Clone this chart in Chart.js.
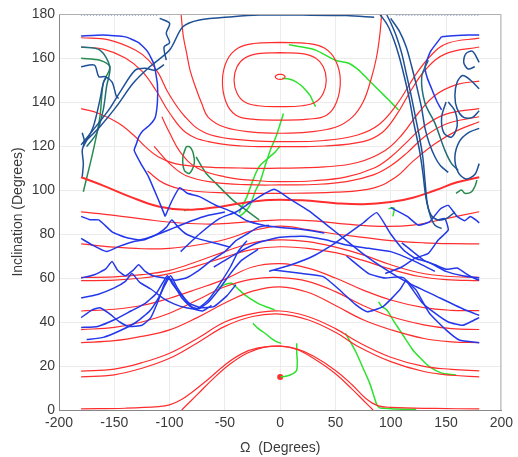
<!DOCTYPE html>
<html><head><meta charset="utf-8">
<script src="https://cdn.jsdelivr.net/npm/chart.js@4.4.1/dist/chart.umd.min.js"></script>
<style>html,body{margin:0;padding:0;background:#fff;}canvas{display:block;}</style>
</head><body>
<canvas id="c" width="518" height="457"></canvas>
<script>
// Axis ticks
const xTicks = [-200,-150,-100,-50,0,50,100,150,200];
const yTicks = [0,20,40,60,80,100,120,140,160,180];

// ---------- red level curves (Omega, inclination pairs) ----------
const redA = [-180,0.5,-140,0.8,-110,1.5,-100,2.3,-90,4.5,-80,8,-65,14,-50,20.5,-35,25.5,-20,28.2,0,29,15,27.8,30,24.5,50,18,65,11.5,78,5,88,2,100,1.2,140,0.7,180,0.5];
const redB = [-89,0,-75,7,-60,14.5,-45,21,-30,25.8,-15,28.5,0,29,15,27.5,30,23.5,50,16.5,65,9.5,76,4,84,0];
const redC = [-180,17.7,-150,18.6,-125,21.5,-100,25.8,-75,32.5,-50,40,-25,43.8,0,45,25,42.5,50,37,70,31,100,24,130,19.8,155,18.5,180,17.8];
const redD = [-180,15.1,-150,16,-125,19,-100,23.5,-75,30.5,-50,38,-25,42.5,0,43.6,25,41,50,35.3,70,29,100,22,130,17.5,155,15.8,180,15.1];
const redE = [-180,30.6,-150,31.5,-125,33.5,-100,36.4,-75,42,-50,48.6,-25,54,0,56,25,53.5,50,47.5,75,41,100,36.5,130,32.5,155,31,180,30.6];
const redF = [-180,36.5,-150,37.6,-125,40,-100,44,-75,50,-50,56,-25,59.5,0,60.2,25,58.5,50,53.8,75,47.5,100,42.5,130,38.7,155,37,180,36.6];
const redG = [-180,45,-150,45.8,-125,47.5,-100,50.8,-75,55,-50,59.5,-25,65,0,66.5,25,64.5,50,60,75,54.5,100,50,130,46.5,155,45.3,180,45.2];
const redH = [-180,60.3,-150,60.5,-125,61.5,-100,63.5,-75,67.5,-50,72,-25,76,0,77.3,25,76.5,50,74,75,70.5,100,66,125,62.5,150,60.8,180,60.3];
const redI = [-180,58.8,-150,59,-125,60,-100,62,-75,65.5,-50,69.5,-25,73,0,74.2,25,73.5,50,71.5,75,68,100,64,125,60.8,150,59.3,180,58.8];
const redJ = [-180,75.5,-150,74,-125,73.3,-100,73.5,-75,75,-50,77.5,-25,81.5,0,83.6,25,82,50,80,75,78.5,100,77,130,76,155,75.6,180,75.5];
const redK = [-180,90.1,-150,88.5,-120,86.5,-90,85,-60,84.5,-30,85.5,0,86.4,30,86,60,84.5,90,83.5,120,84,150,87,180,90.1];
const redL = [-180,105.8,-160,102,-136,97,-110,92.5,-85,91,-60,92,-35,94,-10,95.5,20,95.3,50,94,75,93.5,100,94.5,120,96.5,141,100,160,103.5,180,105.8];
const redM = [-120,108.6,-105,103,-85,100,-50,98.7,0,98.5,50,99,85,101,105,106,120,113,140,121,160,127,180,131];
const redN = [-114,119.8,-100,112,-85,106.5,-60,103.5,-30,102.4,0,102.3,30,102.5,60,103.8,85,107,100,111,115,117,130,124,150,130,180,133.3];
const redO = [-107,133.3,-100,126,-90,117,-75,110,-50,106,-20,104.2,0,103.8,30,104.2,60,106,85,110,100,115,115,122,130,129,150,134.5,180,137];
const redP = [-180,137,-164,134.8,-146,130.3,-131,124.2,-122,119.7,-110,115,-95,112,-70,110.5,-35,110,0,109.9,40,110.5,70,112.5,95,118,110,125,125,135,140,143,160,148,180,149.5];
const redQ = [-180,165,-160,164,-140,160,-125,154,-112,145,-100,135,-85,126,-65,122,-35,120,0,119.7,40,120,75,122,92,126,105,134,118,145,132,155,150,162,180,165];
const redR = [-180,169.2,-155,168.2,-131,163.6,-119,159,-110,153,-101,144,-86,133.3,-68,126,-40,123,0,122,40,122.5,70,125,90,130,107,140,122,152,137,161.5,152,166.8,180,169];
const redS = [-89.6,180,-87.6,170,-84.5,162,-81.5,154.5,-76,146,-71,139.4,-65,133,-50,128.5,-25,126.3,0,125.8,25,126.3,50,128.5,65,133,75,140,82,150,87,160,90,170,91.8,180];
const redLoop2 = [0,167.1,25,166.6,40,164.5,50,159,54.4,150,51,140,42,134,25,132.2,0,131.8,-25,132.2,-40,134,-49,140,-52.2,150,-48,159,-38,164.5,-24,166.6,0,167.1];
const redLoop1 = [0,162.4,20,162,32,160,39,156,41.7,150,39,144,32,140,20,138.3,0,137.9,-20,138.3,-32,140,-39,144,-41.7,150,-39,156,-32,160,-20,162,0,162.4];
const redLoop0 = [0,152.6,3,152.3,4.5,151.5,3,150.6,0,150.3,-3,150.6,-4.5,151.5,-3,152.3,0,152.6];
const redDot = [0,15];

// ---------- blue trajectories ----------
const blue01 = [-180,170,-160,170.4,-140,169.6,-128,167,-120,163,-114,157,-111,148,-111,140,-113,133,-118,129.5,-124,127,-128,124,-130,121,-132,118,-126,112,-119,106,-113,99,-108,93,-104,88];
const blue02 = [-104,88,-98,95,-91,101,-84,98.5,-73,97,-58,93,-43,90,-30,86,-15,84,0,83,20,82,40,80.5];
const blue03 = [-90,72,-73,80,-55,87,-40,90,-25,95,-5.6,100.3,10,95.5,26,90.5,45,83,60,77,75,71,95,64,115,58,140,52,165,46,180,43];
const blue04 = [-10,63,10,66,30,70,50,76,62,80.3,75,85,87.3,89.7,100,80,112,72.5,122,69,135,67,150,63,165,61,180,60];
const blue05 = [-180,60,-168,61.5,-158,64,-152,67.5,-147,63.5,-140,61,-133,63.5,-128,66,-122,63,-115,61,-105,60,-95,59,-85,60,-75,63,-62,68,-50,72,-40,77,-30,80,-20,83,-10,84];
const blue06 = [-180,51,-165,52.5,-150,55.5,-140,58.5,-134,62,-127,58,-117,55,-105,50.5,-95,48,-85,46.5,-75,46,-65,50,-55,57,-45,65,-38,72,-30,77];
const blue07 = [-180,42,-170,45.5,-163,46.5,-155,44,-145,40,-137,38,-125,38.5,-117,42,-110,50,-105,57,-101,60.5,-96,57,-89,51,-81,47,-74,46,-65,49,-55,55,-45,62,-35,68,-20,73];
const blue08 = [-180,37.5,-165,38,-150,41,-135,45,-122,48.5,-112,53,-106,58,-102,61,-97,57,-90,52.5,-82,48.5,-72,46.5,-60,47,-48,52,-40,57];
const blue09 = [-175,32,-160,33,-145,36,-130,40,-118,45,-110,51,-104,57,-99,61,-93,55.5,-86,50.5,-78,46,-70,45,-62,47.5];
const blue10 = [-180,78,-170,75,-157,72,-145,74.5,-133,76.5,-122,77.5,-110,80,-95,83,-80,86,-65,88.5,-50,90];
const blue11 = [-180,88,-172,86.5,-164,86.4,-152,81,-140,78.5,-128,77.3,-118,78.5,-110,80.3,-103,83,-98,86.4,-92,83,-85,80,-75,78,-60,76,-45,74];
const blue12 = [-5.7,63.6,20,62,39,60.6,55,54,68,48,78.6,44.7,93,47,108,54.5,114,59,118,57,123,54.5,135,44,150,36.4,162,31.8,180,30.6];
const blue13 = [60,70,80,62,95,60,105,60.5,112,60,118,56,128,49,140,44,152,40,165,38.5,172,40,180,42];
const blue14 = [110,76,120,72,130,68,140,66,150,64,160,64.5,168,62,175,60,180,59];
const blue15 = [100,92,115,88,125,84,135,85.5,145,91.5,152,93,160,88,167,86,172,88,178,86,180,85];
const blue16 = [-60,65,-40,71,-20,76,0,78.5,20,79,40,77.5,60,75,80,73.5,100,72,120,68,140,63];
const blue17 = [95,62,110,65,122,69,134,71.2,143,77.3,152,81.8,149,87,143,86.4];
const blue18 = [146,169.7,160,170.2,170,170.4,180,170.5];
const blue19 = [146,169.7,136,163,131,156,133,151,137,146,142,140,146,136.4];

// ---------- dark blue / teal trajectories ----------
const navy01 = [-178,121.2,-163,128.8,-148,138,-133,148.5,-118,156,-100,163.6,-88,174.2,-73,177.3,-43,178.8,-19,179.5,20,179.5,60,179.3,85,178.5];
const navy02 = [-180,120.5,-168,128,-155,136.4,-143,146,-131,154.5,-122,155.3,-113,154.5,-105,157];
const navy03 = [-109,178,-100,175.8,-103,171.2,-100,167,-105,165,-103,159];
const navy04 = [-180,156,-168,156.8,-164,151.5,-158,151.5,-152,149,-148,142.4,-146,141.7];
const navy05 = [-178,119.7,-169,128.8,-163,141,-160,148.5,-157,151.5];
const navy06 = [-179,106,-178,112,-179,118,-177,122,-179,126];
const navy07 = [90,180,97,175,103,168,108,160,113,150,117,141,121,130,126,118,129,108,132,96,136,89,142,86.5,150,87,158,90];
const navy08 = [96,180,100,176,105,170,110,162,114,153,118,144,122,134,126,124,129,115,131,104,133,94,136,88,140,84,146,82.5];
const navy09 = [100,178,108,172,114,165,119,156,124,146,128,137,131,128,135,121,140,115,145,111,152,108];
const navy10 = [180,146,172,150,165,152,160,149,158,143,160,137,166,133,174,133,180,136];
const navy11 = [180,128,170,126,162,122,158,115,161,108,168,105,176,107,180,112];
const navy12 = [150,140,146,133,148,126,155,124,160,129,158,136,152,140];
const navy13 = [180,158,174,163,168,162,166,158,170,155,176,156];
const topDots = [-180,179.5,-110,179.5];
const topDotsR = [105,179.5,180,179.5];
const teal01 = [134,159,128,151.5,131,139.4,140,130.3,149,118,155,112,161,109];
const teal02 = [-180,165,-163,163.6,-154,156,-157,147,-160,136.4,-166,125.8,-175,119.7];

// ---------- green trajectories ----------
const green01 = [2,150.8,8,150.5,14,149.3,19,147.5,23,145.5,27,143,29,141,32,137.9];
const green02 = [8,166,20,165,32,163.6,50,159,62,157.6,71,154.5,80,150,90,145,98,141,107,136.4];
const green03 = [3,134.8,0,130,-4,124,-9,118,-13,112,-18,104,-22,100,-25,96,-28,92.4,-33,89.5,-37,88];
const green04 = [0,120,-5,117,-12,114,-19,110.6,-25,104,-30,97,-35,92,-37,89.4];
const green05 = [-56,55.3,-50,57,-44,57.6,-38,55,-32,52.3,-26,50.3,-20,48.5,-12,46.8,-5,45.5];
const green06 = [-24.6,39.4,-20,37.1,-14,35,-8,32.6,-3,31,1,30.3];
const green07 = [0.3,15.1,5,15.3,9,15.9,13,17,15,18.2,15.5,22,15,26,15,30.3];
const green08 = [59,34.8,64,30.5,69,25.8,75,19,81,12.1,85,6,87.5,2.3,90,1,93,0.8,105,0.4,123,0.3];
const green09 = [89,49.2,92,47,96.5,45.5,102,41,108,36.4,114,31.8,120,27.3,127,23.5,135,19.7,145,17,159,15.9];
const green10 = [-87,90.5,-83,91.3];
const green11 = [98,91.5,103,91.8,102,88];
const dkgreen01 = [-85,119.7,-88,115,-86.7,109,-82,107.6,-77.7,112,-79,117.4,-82,119.7,-85,119.7];
const dkgreen02 = [-76,115,-67,107.6,-58,103,-43,95.5,-30,90.5,-19,86.4];
const dkgreen03 = [-180,159.9,-163,159,-154,156,-160,148.5,-163,133.3,-169,118,-178,99.2];
const dkgreen04 = [159,98.5,164,100,167,98.5,173,99.2,176,101.5,178,104.5];

const RED='rgb(255,45,45)', BLUE='rgb(35,55,235)', NAVY='rgb(30,80,150)', TEAL='rgb(35,110,120)', GREEN='rgb(45,225,45)', DKGREEN='rgb(40,140,80)';

function pts(a){const r=[];for(let k=0;k<a.length;k+=2)r.push({x:a[k],y:a[k+1]});return r;}
function ds(a,color,w,t,dash){return {data:pts(a),borderColor:color,backgroundColor:color,borderWidth:w,showLine:true,pointRadius:0,tension:t,borderDash:dash||[]};}

const datasets = [];
[navy01,navy02,navy03,navy04,navy05,navy06,navy07,navy08,navy09,navy10,navy11,navy12,navy13].forEach(a=>datasets.push(ds(a,NAVY,1.5,0.3)));
[topDots,topDotsR].forEach(a=>datasets.push(ds(a,'rgb(120,140,210)',1.5,0,[1,2])));
[teal01,teal02].forEach(a=>datasets.push(ds(a,TEAL,1.5,0.3)));
[blue01,blue02,blue03,blue04,blue05,blue06,blue07,blue08,blue09,blue10,blue11,blue12,blue13,blue14,blue15,blue16,blue17,blue18,blue19].forEach(a=>datasets.push(ds(a,BLUE,1.5,0.15)));
[redA,redB,redC,redD,redE,redF,redG,redH,redI,redJ,redK,redM,redN,redO,redP,redQ,redR,redS,redLoop2,redLoop1,redLoop0].forEach(a=>datasets.push(ds(a,RED,1.2,0.4)));
datasets.push(ds(redL,RED,2,0.4));
[dkgreen01,dkgreen02,dkgreen03,dkgreen04].forEach(a=>datasets.push(ds(a,DKGREEN,1.5,0.3)));
[green01,green02,green03,green04,green05,green06,green07,green08,green09,green10,green11].forEach(a=>datasets.push(ds(a,GREEN,1.5,0.3)));
datasets.push({data:pts(redDot),showLine:false,pointRadius:3,pointBackgroundColor:RED,pointBorderWidth:0});

const boxPlugin={id:'box',afterDraw(c){const a=c.chartArea,x=c.ctx;x.save();x.strokeStyle='#b0b0b0';x.lineWidth=1;x.beginPath();x.moveTo(a.left,a.top+0.5);x.lineTo(a.right-0.5,a.top+0.5);x.lineTo(a.right-0.5,a.bottom);x.stroke();x.restore();}};

const FONT={family:'"Liberation Sans", Arial, sans-serif',size:14};
new Chart(document.getElementById('c'),{
  type:'scatter',
  data:{datasets},
  options:{
    responsive:false,animation:false,devicePixelRatio:1,
    layout:{padding:{left:0,top:14,right:8,bottom:0}},
    plugins:{legend:{display:false},tooltip:{enabled:false}},
    scales:{
      x:{type:'linear',min:xTicks[0],max:xTicks[xTicks.length-1],
         afterBuildTicks:s=>{s.ticks=xTicks.map(v=>({value:v}));},
         afterFit:s=>{s.height=47;},
         ticks:{font:FONT,color:'#3a3a3a',padding:5},
         grid:{color:'#ececec',drawTicks:false},
         border:{color:'#888'},
         title:{display:true,text:'\u03A9  (Degrees)',font:FONT,color:'#3a3a3a',padding:{top:2,bottom:0}}},
      y:{type:'linear',min:yTicks[0],max:yTicks[yTicks.length-1],
         afterBuildTicks:s=>{s.ticks=yTicks.map(v=>({value:v}));},
         afterFit:s=>{s.width=59;},
         ticks:{font:FONT,color:'#3a3a3a',padding:4},
         grid:{color:'#ececec',drawTicks:false},
         border:{color:'#888'},
         title:{display:true,text:'Inclination (Degrees)',font:FONT,color:'#3a3a3a',padding:{top:10,bottom:0}}}
    }
  },
  plugins:[boxPlugin]
});
</script>
</body></html>
